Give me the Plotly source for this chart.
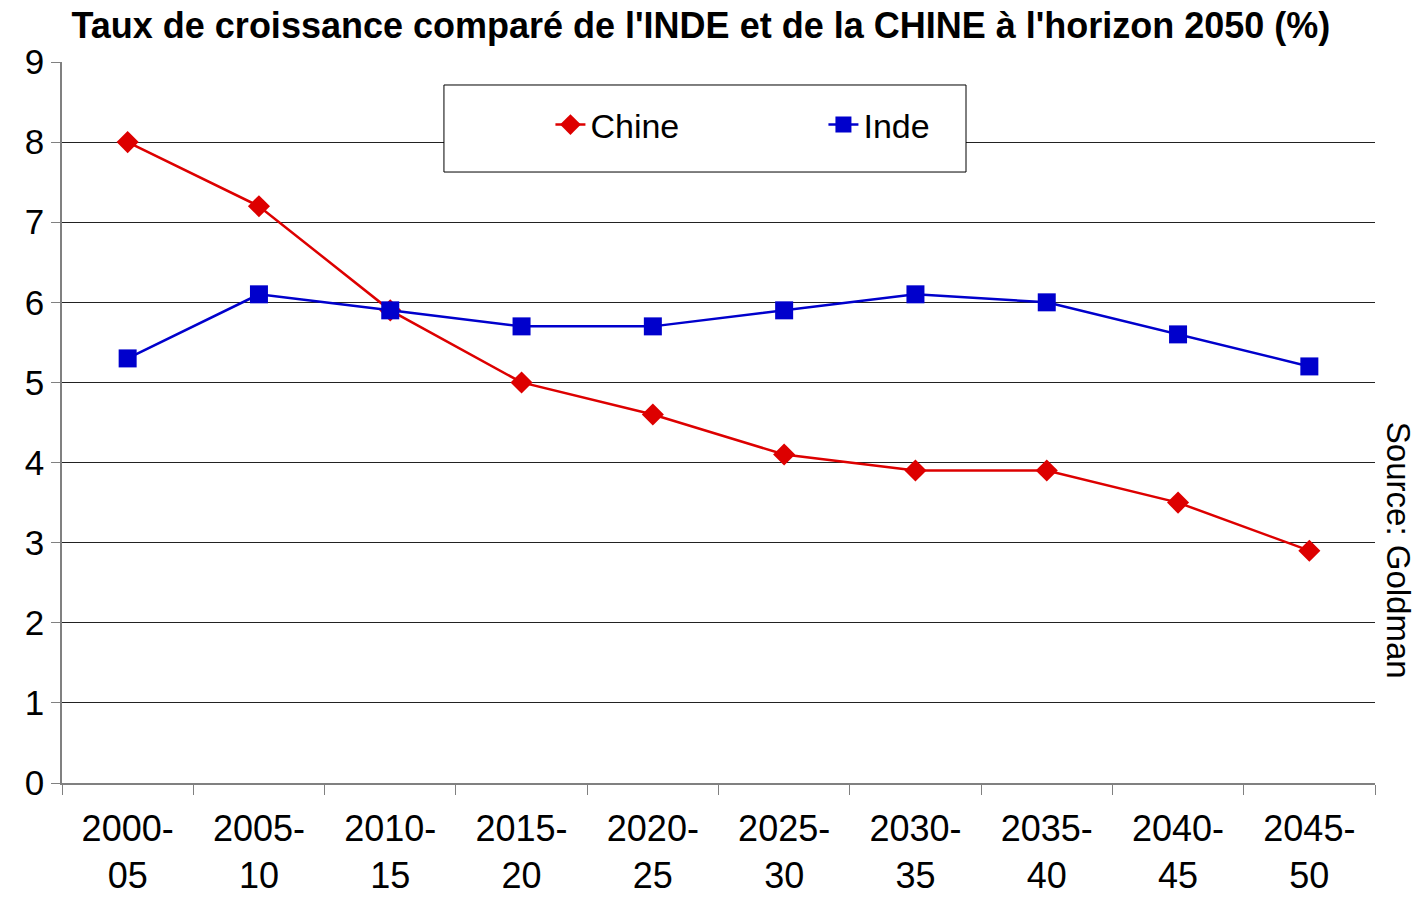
import plotly.graph_objects as go

periods = ["2000-<br>05", "2005-<br>10", "2010-<br>15", "2015-<br>20", "2020-<br>25",
           "2025-<br>30", "2030-<br>35", "2035-<br>40", "2040-<br>45", "2045-<br>50"]
chine = [8.0, 7.2, 5.9, 5.0, 4.6, 4.1, 3.9, 3.9, 3.5, 2.9]
inde = [5.3, 6.1, 5.9, 5.7, 5.7, 5.9, 6.1, 6.0, 5.6, 5.2]

title_text = "Taux de croissance comparé de l'INDE et de la CHINE à l'horizon 2050 (%)"
source_text = "Source: Goldman"

RED = "#DD0000"
BLUE = "#0000CC"
FONT = "Liberation Sans, Arial, sans-serif"

fig = go.Figure()
fig.add_trace(go.Scatter(
    x=periods, y=chine, name="Chine", mode="lines+markers",
    line=dict(color=RED, width=2.5),
    marker=dict(symbol="diamond", size=17, color=RED),
))
fig.add_trace(go.Scatter(
    x=periods, y=inde, name="Inde", mode="lines+markers",
    line=dict(color=BLUE, width=2.5),
    marker=dict(symbol="square", size=18, color=BLUE),
))

fig.update_layout(
    width=1416, height=897,
    margin=dict(l=62, r=41, t=62, b=114),
    paper_bgcolor="white", plot_bgcolor="white",
    font=dict(family=FONT, color="black"),
    title=dict(text="<b>" + title_text + "</b>", x=0.495, xanchor="center",
               y=0.972, yanchor="middle", font=dict(size=36, family=FONT)),
    showlegend=True,
    legend=dict(orientation="h", x=0.372, xanchor="left", y=0.9126, yanchor="middle",
                bgcolor="rgba(0,0,0,0)", borderwidth=0, font=dict(size=34),
                entrywidth=228, entrywidthmode="pixels"),
)

# legend frame
fig.add_shape(type="rect", xref="paper", yref="paper",
              x0=0.2909, x1=0.6885, y0=0.8474, y1=0.9681,
              line=dict(color="black", width=1), fillcolor="white", layer="above")

fig.add_annotation(text=source_text, xref="paper", yref="paper", x=1.0175, y=0.322,
                   xanchor="center", yanchor="middle", textangle=90, showarrow=False,
                   font=dict(size=33, family=FONT))

fig.update_xaxes(
    range=[-0.5, 9.5], automargin=False,
    showgrid=False, showline=True, linecolor="#808080", linewidth=1.5,
    ticks="outside", tickson="boundaries", ticklen=10, tickcolor="#808080",
    tickfont=dict(size=36), ticklabelstandoff=13,
)
fig.update_yaxes(
    range=[0, 9], dtick=1, automargin=False,
    showgrid=True, gridcolor="#222222", gridwidth=1,
    showline=True, linecolor="#808080", linewidth=1.5, zeroline=False,
    ticks="outside", ticklen=9, tickcolor="#808080", tickfont=dict(size=35),
)

fig.write_html("out.html", config={"displayModeBar": False},
               post_script="document.body.style.margin='0';")
